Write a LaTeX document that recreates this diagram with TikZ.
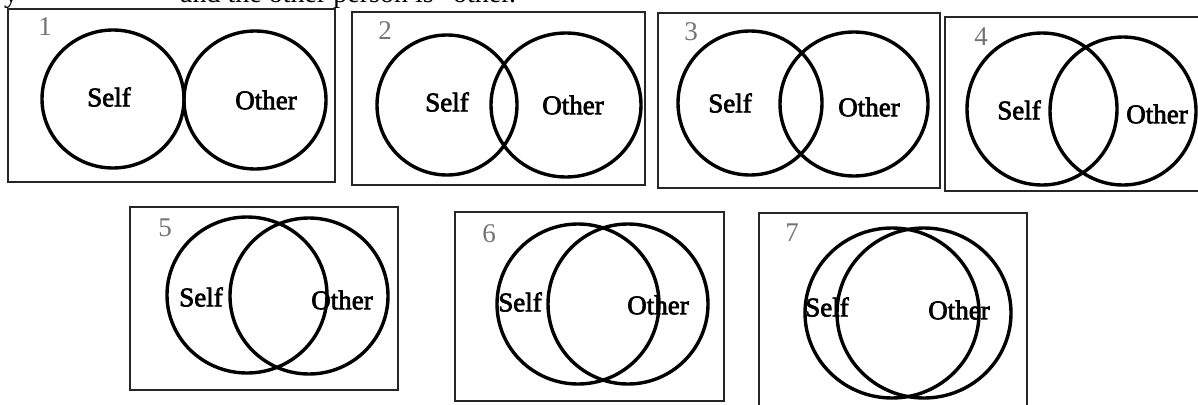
\documentclass[tikz,border=0pt]{standalone}
\usepackage{fontspec}
\setmainfont{Liberation Serif}
\newfontfamily\heavyfont[FakeBold=2.5]{Liberation Serif}
\begin{document}
\begin{tikzpicture}[x=1pt,y=-1pt,
  panel/.style={draw=black!85, line width=1.5pt},
  ring/.style={draw=black, line width=3.4pt},
  lbl/.style={font=\heavyfont\fontsize{27}{27}\selectfont, inner sep=0pt},
  num/.style={font=\fontsize{27}{27}\selectfont, text=black!55, inner sep=0pt},
  toptext/.style={font=\fontsize{28}{28}\selectfont, inner sep=0pt, anchor=base west}]
\useasboundingbox (0,0) rectangle (1198,404);
\clip (0,0) rectangle (1198,404);
\fill[white] (0,0) rectangle (1198,404);

% clipped line of text above the panels
\node[toptext] (topy) at (4,3) {y};
\node[toptext] (topline) at (180,3) {and the other person is “other.”};

% panel 1
\draw[panel] (8,9) rectangle (335,182);
\draw[ring] (113,99) ellipse [x radius=71pt, y radius=69pt];
\draw[ring] (255,100) ellipse [x radius=71pt, y radius=69pt];
\node[num] (n1) at (45,27) {1};
\node[lbl] (self1) at (109,97) {Self};
\node[lbl] (other1) at (266,100) {Other};

% panel 2
\draw[panel] (352,12) rectangle (645,185);
\draw[ring] (447,105) ellipse [x radius=70pt, y radius=70pt];
\draw[ring] (566,105) ellipse [x radius=75pt, y radius=72pt];
\node[num] (n2) at (385,31) {2};
\node[lbl] (self2) at (447,102) {Self};
\node[lbl] (other2) at (573,105) {Other};

% panel 3
\draw[panel] (658,13) rectangle (940,188);
\draw[ring] (750,103) ellipse [x radius=72pt, y radius=72pt];
\draw[ring] (854,104) ellipse [x radius=74pt, y radius=72pt];
\node[num] (n3) at (691,32) {3};
\node[lbl] (self3) at (730,103) {Self};
\node[lbl] (other3) at (869,107) {Other};

% panel 4
\draw[panel] (945,17) rectangle (1210,191);
\draw[ring] (1042,109) ellipse [x radius=75pt, y radius=76pt];
\draw[ring] (1123,111) ellipse [x radius=73pt, y radius=74pt];
\node[num] (n4) at (981,37) {4};
\node[lbl] (self4) at (1019,110) {Self};
\node[lbl] (other4) at (1157,114) {Other};

% panel 5
\draw[panel] (130,207) rectangle (398,390);
\draw[ring] (247,295) ellipse [x radius=80pt, y radius=78pt];
\draw[ring] (309,296) ellipse [x radius=79pt, y radius=78pt];
\node[num] (n5) at (165,228) {5};
\node[lbl] (self5) at (201,297) {Self};
\node[lbl] (other5) at (342,300) {Other};

% panel 6
\draw[panel] (455,212) rectangle (724,401);
\draw[ring] (578,304) ellipse [x radius=81pt, y radius=80pt];
\draw[ring] (628,304) ellipse [x radius=80pt, y radius=80pt];
\node[num] (n6) at (489,234) {6};
\node[lbl] (self6) at (520,302) {Self};
\node[lbl] (other6) at (658,305) {Other};

% panel 7
\draw[panel] (759,213) rectangle (1027,410);
\draw[ring] (892,313) ellipse [x radius=87pt, y radius=85pt];
\draw[ring] (924,313) ellipse [x radius=87pt, y radius=85pt];
\node[num] (n7) at (792,233) {7};
\node[lbl] (self7) at (827,307) {Self};
\node[lbl] (other7) at (959,310) {Other};
\end{tikzpicture}
\end{document}
